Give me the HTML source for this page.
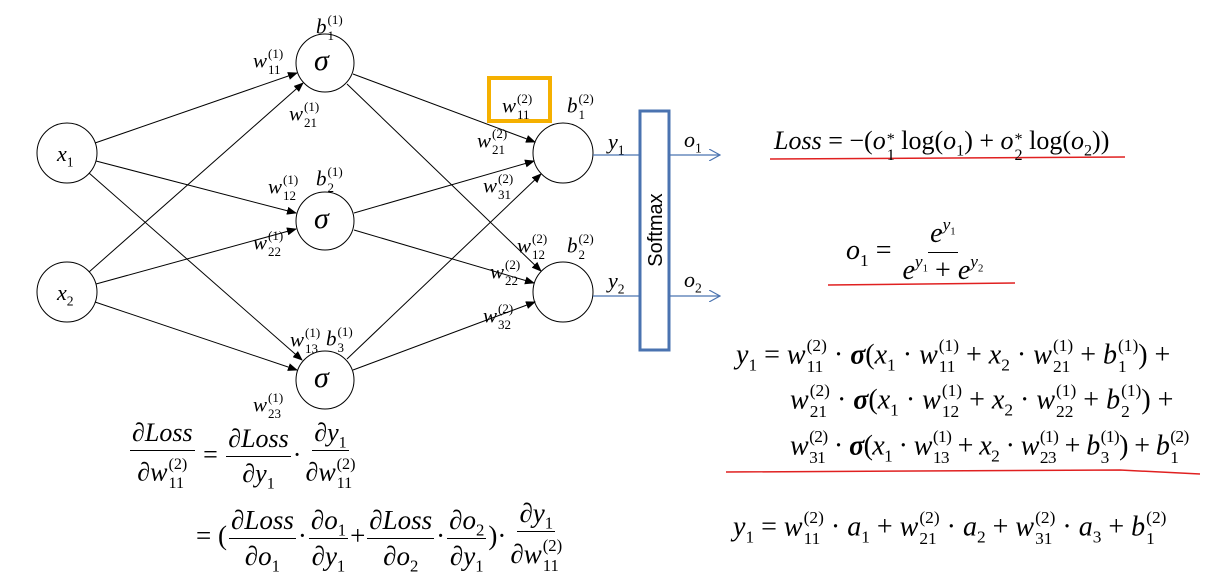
<!DOCTYPE html>
<html><head><meta charset="utf-8"><style>
body{margin:0;width:1212px;height:586px;background:#fff;position:relative;overflow:hidden}
.t{position:absolute;font-family:"Liberation Serif",serif;font-size:21px;white-space:nowrap;line-height:1;color:#000}
.i{font-style:italic}
.ss{display:inline-flex;flex-direction:column;font-size:.62em;line-height:1.2;vertical-align:.72em;font-style:normal;margin-left:1px}
sub{font-size:.62em;vertical-align:-.4em;font-style:normal;line-height:0}
sup{font-size:.62em;vertical-align:.7em;font-style:normal;line-height:0}
.fr{display:inline-flex;flex-direction:column;align-items:center;vertical-align:middle;margin:0 2px}
.fr>span{padding:0 2px}
.fr>span:first-child{border-bottom:1px solid #000;padding-bottom:4px}
.fr>span:last-child{padding-top:4px}
</style></head><body>
<svg width="1212" height="586" style="position:absolute;left:0;top:0">
<defs><marker id="a" markerWidth="10" markerHeight="8" refX="9" refY="4" orient="auto" markerUnits="userSpaceOnUse"><path d="M0,0 L10,4 L0,8 Z" fill="#000"/></marker>
<marker id="b" markerWidth="12" markerHeight="12" refX="11" refY="6" orient="auto" markerUnits="userSpaceOnUse"><path d="M0,0 L11,6 L0,12" fill="none" stroke="#4a73b0" stroke-width="1.2"/></marker></defs>
<g stroke="#000" stroke-width="1" fill="none">
<circle cx="67" cy="153" r="30"/><circle cx="67" cy="292" r="30"/>
<circle cx="325" cy="63" r="29"/><circle cx="325" cy="221" r="29"/><circle cx="325" cy="380" r="29"/>
<circle cx="563" cy="153" r="30"/><circle cx="563" cy="292" r="30"/>
<g marker-end="url(#a)">
<line x1="95" y1="143" x2="297" y2="73"/><line x1="96" y1="161" x2="296" y2="213"/><line x1="89" y1="173" x2="302" y2="360"/>
<line x1="89" y1="272" x2="303" y2="83"/><line x1="96" y1="284" x2="296" y2="229"/><line x1="95" y1="302" x2="297" y2="370"/>
<line x1="353" y1="74" x2="535" y2="142"/><line x1="347" y1="84" x2="541" y2="271"/>
<line x1="354" y1="213" x2="534" y2="161"/><line x1="354" y1="230" x2="534" y2="283"/>
<line x1="347" y1="359" x2="541" y2="174"/><line x1="353" y1="370" x2="535" y2="302"/>
</g></g>
<g stroke="#4a73b0" fill="none">
<rect x="640" y="111" width="29" height="239" stroke-width="3"/>
<line x1="593" y1="155" x2="639" y2="155" stroke-width="1.2"/><line x1="593" y1="296" x2="639" y2="296" stroke-width="1.2"/>
<line x1="670" y1="155" x2="720" y2="155" stroke-width="1.2" marker-end="url(#b)"/>
<line x1="670" y1="296" x2="720" y2="296" stroke-width="1.2" marker-end="url(#b)"/>
</g>
<rect x="489" y="78" width="61" height="43" fill="none" stroke="#f5b000" stroke-width="4"/>
<g stroke="#e02020" stroke-width="1.5" fill="none">
<path d="M770,159 L1125,157"/><path d="M828,285 L1015,283"/><path d="M726,472 L1120,470 L1200,474"/>
</g>
<text x="662" y="230" transform="rotate(-90 662 230)" text-anchor="middle" font-family="Liberation Sans,sans-serif" font-size="20" fill="#000">Softmax</text>
</svg>

<div class="t i" style="left:57px;top:143px;font-size:22px">x<sub>1</sub></div>
<div class="t i" style="left:57px;top:282px;font-size:22px">x<sub>2</sub></div>
<div class="t i" style="left:314px;top:46px;font-size:30px">σ</div>
<div class="t i" style="left:314px;top:204px;font-size:30px">σ</div>
<div class="t i" style="left:314px;top:363px;font-size:30px">σ</div>

<div class="t i" style="left:316px;top:12px">b<span class="ss"><span>(1)</span><span>1</span></span></div>
<div class="t i" style="left:253px;top:46px">w<span class="ss"><span>(1)</span><span>11</span></span></div>
<div class="t i" style="left:289px;top:99px">w<span class="ss"><span>(1)</span><span>21</span></span></div>
<div class="t i" style="left:268px;top:172px">w<span class="ss"><span>(1)</span><span>12</span></span></div>
<div class="t i" style="left:316px;top:164px">b<span class="ss"><span>(1)</span><span>2</span></span></div>
<div class="t i" style="left:253px;top:228px">w<span class="ss"><span>(1)</span><span>22</span></span></div>
<div class="t i" style="left:290px;top:325px">w<span class="ss"><span>(1)</span><span>13</span></span></div>
<div class="t i" style="left:326px;top:324px">b<span class="ss"><span>(1)</span><span>3</span></span></div>
<div class="t i" style="left:253px;top:390px">w<span class="ss"><span>(1)</span><span>23</span></span></div>

<div class="t i" style="left:502px;top:91px">w<span class="ss"><span>(2)</span><span>11</span></span></div>
<div class="t i" style="left:567px;top:91px">b<span class="ss"><span>(2)</span><span>1</span></span></div>
<div class="t i" style="left:477px;top:126px">w<span class="ss"><span>(2)</span><span>21</span></span></div>
<div class="t i" style="left:483px;top:171px">w<span class="ss"><span>(2)</span><span>31</span></span></div>
<div class="t i" style="left:517px;top:231px">w<span class="ss"><span>(2)</span><span>12</span></span></div>
<div class="t i" style="left:567px;top:231px">b<span class="ss"><span>(2)</span><span>2</span></span></div>
<div class="t i" style="left:490px;top:257px">w<span class="ss"><span>(2)</span><span>22</span></span></div>
<div class="t i" style="left:483px;top:301px">w<span class="ss"><span>(2)</span><span>32</span></span></div>

<div class="t i" style="left:608px;top:131px;font-size:22px">y<sub>1</sub></div>
<div class="t i" style="left:608px;top:270px;font-size:22px">y<sub>2</sub></div>
<div class="t i" style="left:684px;top:129px;font-size:22px">o<sub>1</sub></div>
<div class="t i" style="left:684px;top:269px;font-size:22px">o<sub>2</sub></div>

<div class="t" style="left:774px;top:128px;font-size:26px"><i>Loss</i> = −(<i>o</i><span class="ss" style="vertical-align:.3em;line-height:1"><span>*</span><span>1</span></span> log(<i>o</i><sub>1</sub>) + <i>o</i><span class="ss" style="vertical-align:.3em;line-height:1"><span>*</span><span>2</span></span> log(<i>o</i><sub>2</sub>))</div>
<div class="t" style="left:846px;top:220px;font-size:28px"><i>o</i><sub>1</sub> = <span class="fr"><span><i>e</i><sup><i>y</i><sub>1</sub></sup></span><span><i>e</i><sup><i>y</i><sub>1</sub></sup> + <i>e</i><sup><i>y</i><sub>2</sub></sup></span></span></div>

<div class="t" style="left:736px;top:336px;font-size:28px"><i>y</i><sub>1</sub> = <i>w</i><span class="ss"><span>(2)</span><span>11</span></span> · <b><i>σ</i></b>(<i>x</i><sub>1</sub> · <i>w</i><span class="ss"><span>(1)</span><span>11</span></span> + <i>x</i><sub>2</sub> · <i>w</i><span class="ss"><span>(1)</span><span>21</span></span> + <i>b</i><span class="ss"><span>(1)</span><span>1</span></span>) +</div>
<div class="t" style="left:790px;top:381px;font-size:28px"><i>w</i><span class="ss"><span>(2)</span><span>21</span></span> · <b><i>σ</i></b>(<i>x</i><sub>1</sub> · <i>w</i><span class="ss"><span>(1)</span><span>12</span></span> + <i>x</i><sub>2</sub> · <i>w</i><span class="ss"><span>(1)</span><span>22</span></span> + <i>b</i><span class="ss"><span>(1)</span><span>2</span></span>) +</div>
<div class="t" style="left:790px;top:427px;font-size:28px;letter-spacing:-0.6px"><i>w</i><span class="ss"><span>(2)</span><span>31</span></span> · <b><i>σ</i></b>(<i>x</i><sub>1</sub> · <i>w</i><span class="ss"><span>(1)</span><span>13</span></span> + <i>x</i><sub>2</sub> · <i>w</i><span class="ss"><span>(1)</span><span>23</span></span> + <i>b</i><span class="ss"><span>(1)</span><span>3</span></span>) + <i>b</i><span class="ss"><span>(2)</span><span>1</span></span></div>
<div class="t" style="left:733px;top:508px;font-size:28px"><i>y</i><sub>1</sub> = <i>w</i><span class="ss"><span>(2)</span><span>11</span></span> · <i>a</i><sub>1</sub> + <i>w</i><span class="ss"><span>(2)</span><span>21</span></span> · <i>a</i><sub>2</sub> + <i>w</i><span class="ss"><span>(2)</span><span>31</span></span> · <i>a</i><sub>3</sub> + <i>b</i><span class="ss"><span>(2)</span><span>1</span></span></div>

<div class="t" style="left:128px;top:420px;font-size:26px"><span class="fr"><span>∂<i>Loss</i></span><span>∂<i>w</i><span class="ss"><span>(2)</span><span>11</span></span></span></span> = <span class="fr"><span>∂<i>Loss</i></span><span>∂<i>y</i><sub>1</sub></span></span>·<span class="fr"><span>∂<i>y</i><sub>1</sub></span><span>∂<i>w</i><span class="ss"><span>(2)</span><span>11</span></span></span></span></div>
<div class="t" style="left:196px;top:500px;font-size:27px">= (<span class="fr"><span>∂<i>Loss</i></span><span>∂<i>o</i><sub>1</sub></span></span>·<span class="fr"><span>∂<i>o</i><sub>1</sub></span><span>∂<i>y</i><sub>1</sub></span></span>+<span class="fr"><span>∂<i>Loss</i></span><span>∂<i>o</i><sub>2</sub></span></span>·<span class="fr"><span>∂<i>o</i><sub>2</sub></span><span>∂<i>y</i><sub>1</sub></span></span>)·<span class="fr"><span>∂<i>y</i><sub>1</sub></span><span>∂<i>w</i><span class="ss"><span>(2)</span><span>11</span></span></span></span></div>
</body></html>
